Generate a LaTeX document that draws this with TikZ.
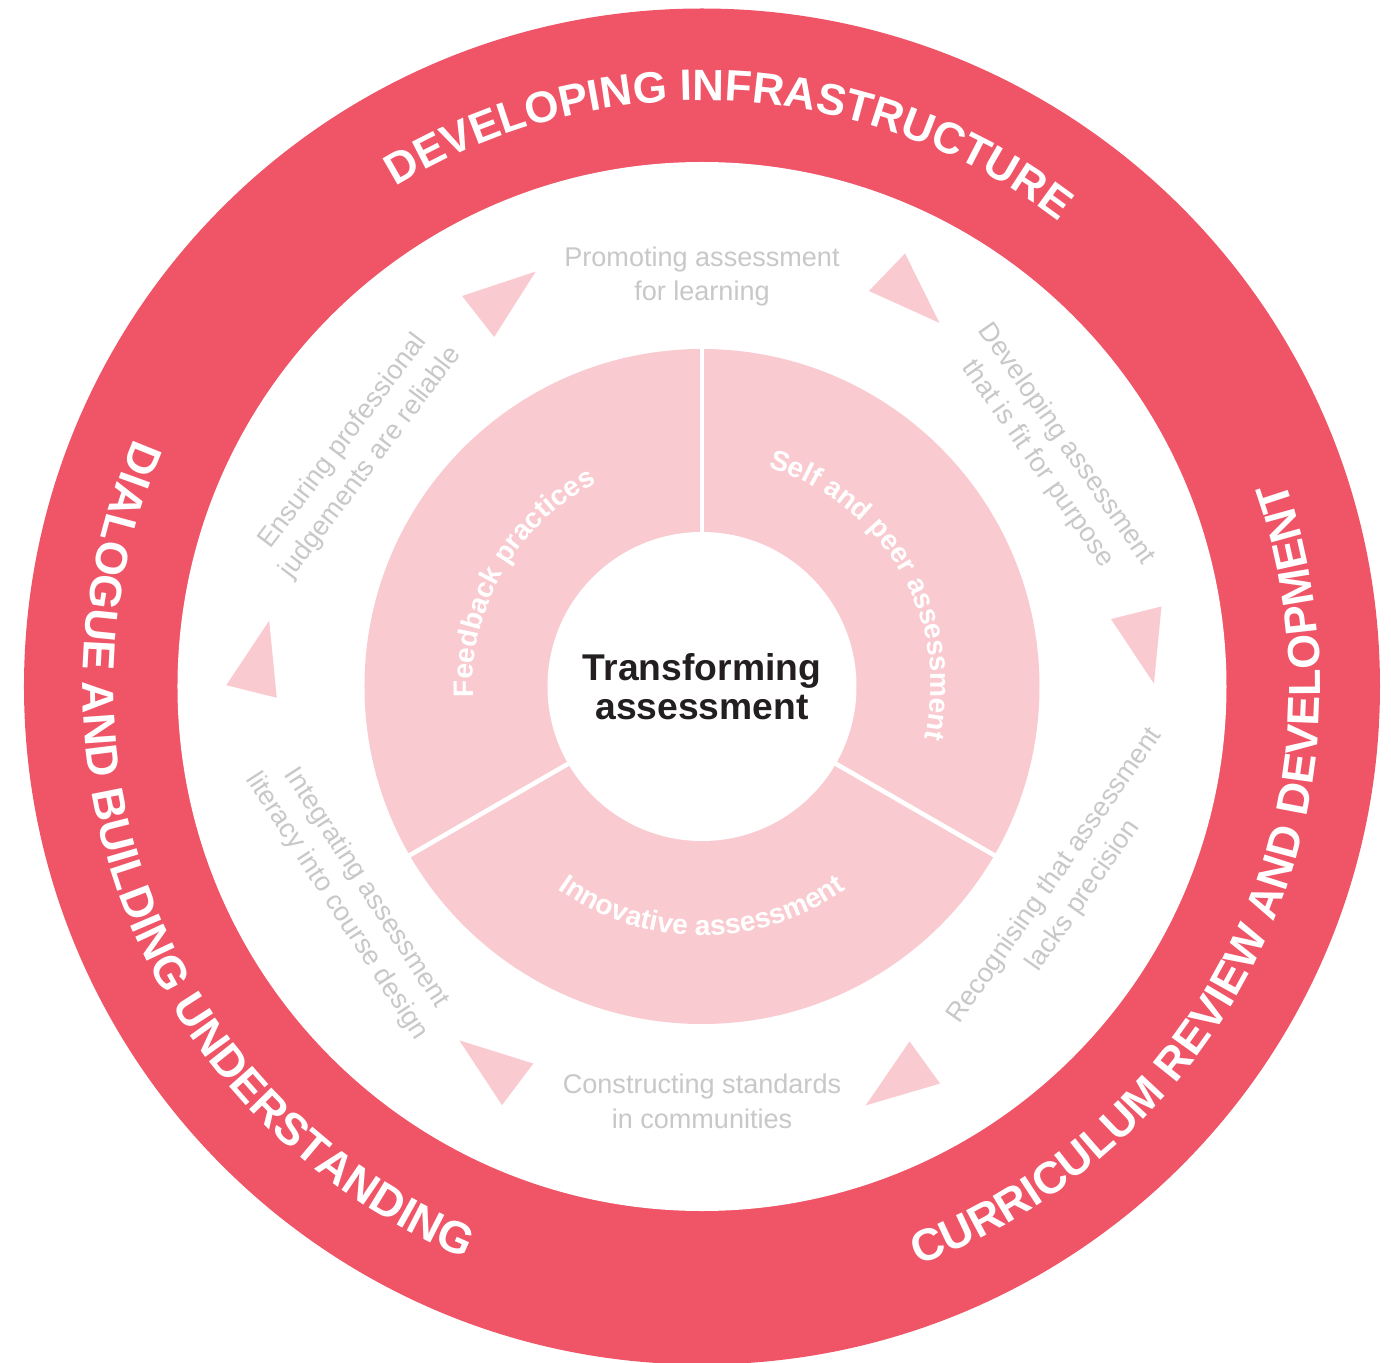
\documentclass[tikz,border=0pt]{standalone}
\usepackage{fontspec}
\setmainfont{Liberation Sans}
\usetikzlibrary{decorations.text}
\definecolor{ringred}{RGB}{239,84,103}
\definecolor{ringpink}{RGB}{249,203,209}
\definecolor{labelgray}{RGB}{200,200,200}
\definecolor{hubblack}{RGB}{35,31,32}

\begin{document}
\begin{tikzpicture}[
  outer text/.style 2 args={decorate, decoration={text along path, text align=center,
    text color=white, text={|\bfseries\fontsize{#1}{#1}\selectfont|#2}}},
  ring text/.style={decorate, decoration={text along path, text align=center,
    text color=white, text={|\bfseries\fontsize{8}{8}\selectfont|#1}}},
  step label/.style={font=\fontsize{7.7}{9.9}\selectfont, text=labelgray, align=center}
]
\tikzstyle{every node}+=[inner sep=0pt]
\useasboundingbox (-7.02,-6.755) rectangle (6.89,6.865);
% rings
\fill [ringred] (0,0) circle (6.78);
\fill [white] (0,0) circle (5.245);
\fill [ringpink] (0,0) circle (3.375);
\fill [white] (0,0) circle (1.545);
\foreach \a in {90,210,330}
  \draw [white, line width=1.3pt] (\a:1.5) -- (\a:3.45);
% outer themes
\path [outer text={12.5}{DEVELOPING INFRASTRUCTURE}] (162:5.86) arc [start angle=162, end angle=12, radius=5.86];
\path [outer text={12.8}{CURRICULUM REVIEW AND DEVELOPMENT}] (-100:6.18) arc [start angle=-100, end angle=50, radius=6.18];
\path [outer text={12.8}{DIALOGUE AND BUILDING UNDERSTANDING}] (127:6.19) arc [start angle=127, end angle=277, radius=6.19];
% inner segments
\path [ring text={Feedback practices}] (220:2.29) arc [start angle=220, end angle=80, radius=2.29];
\path [ring text={Self and peer assessment}] (100:2.29) arc [start angle=100, end angle=-40, radius=2.29];
\path [ring text={Innovative assessment}] (200:2.49) arc [start angle=200, end angle=340, radius=2.49];
\node [font=\bfseries\fontsize{10.6}{11}\selectfont, text=hubblack, align=center] (hub) at (0,0) {Transforming\\assessment};
% cycle steps
\node [step label] (promoting) at (90:4.10) {Promoting assessment\\for learning};
\node [step label, rotate=-55] (developing) at (33.6:4.20) {Developing assessment\\that is fit for purpose};
\node [step label, rotate=55] (recognising) at (-28.5:4.18) {Recognising that assessment\\lacks precision};
\node [step label] (constructing) at (-90:4.15) {Constructing standards\\in communities};
\node [step label, rotate=-57] (integrating) at (211:4.09) {Integrating assessment\\literacy into course design};
\node [step label, rotate=53] (ensuring) at (145.8:4.17) {Ensuring professional\\judgements are reliable};
% arrowheads
\foreach \ang/\rad/\rot in {118/4.36/38, 63/4.46/-44, 6.5/4.43/-76, -62.5/4.40/216, 242/4.34/143, 177.6/4.45/76}
  \fill [ringpink, shift={(\ang:\rad)}, rotate=\rot] (0.487,0) -- (-0.243,0.26) -- (-0.243,-0.26) -- cycle;
\end{tikzpicture}
\end{document}
